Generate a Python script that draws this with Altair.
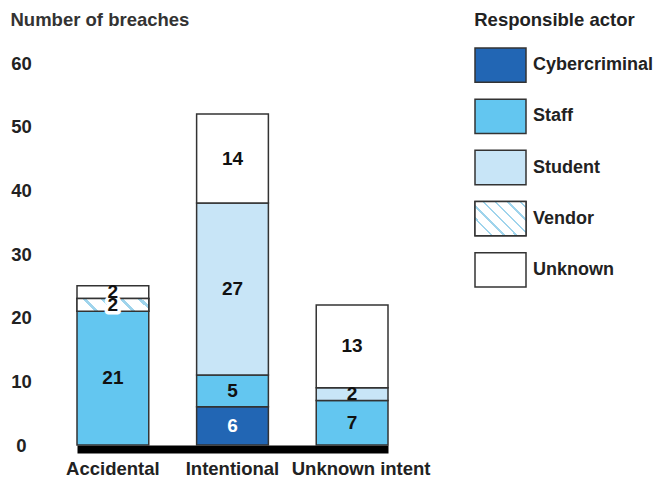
import altair as alt
import pandas as pd

# ---- data ----
categories = ["Accidental", "Intentional", "Unknown intent"]
actors = ["Cybercriminal", "Staff", "Student", "Vendor", "Unknown"]
cybercriminal = [0, 6, 0]
staff = [21, 5, 7]
student = [0, 27, 2]
vendor = [2, 0, 0]
unknown = [2, 14, 13]
y_ticks = [0, 10, 20, 30, 40, 50, 60]

series = [cybercriminal, staff, student, vendor, unknown]

# ---- styles ----
FONT = "Liberation Sans"
FS = 18.5
actor_colors = ["#2266b4", "#63c6f0", "#c8e5f7", "#ffffff", "#ffffff"]
HATCH = "#9fd4ec"
STROKE = "#333333"
TXT = "#222222"


def hatch_gradient(n, x1, y1, x2, y2, w=0.22):
    stops = []
    for k in range(n):
        a = (k + 0.5 - w / 2) / n
        b = (k + 0.5 + w / 2) / n
        stops += [
            {"offset": k / n, "color": "white"},
            {"offset": a, "color": "white"},
            {"offset": a, "color": HATCH},
            {"offset": b, "color": HATCH},
            {"offset": b, "color": "white"},
        ]
    stops.append({"offset": 1, "color": "white"})
    return {"gradient": "linear", "x1": x1, "y1": y1, "x2": x2, "y2": y2, "stops": stops}


# ---- table ----
rows = []
for ci, cat in enumerate(categories):
    base = 0
    for ai, actor in enumerate(actors):
        v = series[ai][ci]
        if v > 0:
            rows.append({"category": cat, "actor": actor, "order": ai, "value": v,
                         "y0": base, "y1": base + v, "ymid": base + v / 2})
            base += v
df = pd.DataFrame(rows)

x_enc = alt.X("category:N", sort=categories,
              scale=alt.Scale(domain=categories, paddingInner=0.4, paddingOuter=0),
              axis=alt.Axis(title=None, labelAngle=0, labelFont=FONT, labelFontSize=FS,
                            labelFontWeight="bold", labelColor=TXT, ticks=False, tickSize=0,
                            labelPadding=10, domainColor="black", domainWidth=8, offset=4,
                            labelOffset={"condition": {"test": "datum.value == 'Unknown intent'",
                                                       "value": 9}, "value": 0},
                            grid=False))
y_axis = alt.Axis(values=y_ticks, title="Number of breaches", titleAngle=0, titleAlign="left",
                  titleX=-67, titleY=-38, titleBaseline="alphabetic", titleFont=FONT,
                  titleFontSize=FS, titleFontWeight="bold", titleColor="#333333",
                  labelFont=FONT, labelFontSize=FS, labelFontWeight="bold", labelColor=TXT,
                  grid=False, domain=False, ticks=False, tickSize=0, labelAlign="center",
                  labelPadding=56, labelBaseline="middle")
y_scale = alt.Scale(domain=[0, 60], nice=False, zero=True)

base = alt.Chart(df)

bars = base.mark_bar(stroke=STROKE, strokeWidth=1.5).encode(
    x=x_enc,
    y=alt.Y("y0:Q", scale=y_scale, axis=y_axis),
    y2="y1:Q",
    color=alt.Color("actor:N", scale=alt.Scale(domain=actors, range=actor_colors), legend=None),
)

hatch = base.transform_filter("datum.actor == 'Vendor'").mark_bar(
    stroke=STROKE, strokeWidth=1.5, fill=hatch_gradient(4, 0, 0.18, 1, 0)
).encode(
    x=x_enc,
    y=alt.Y("y0:Q", scale=y_scale, axis=y_axis),
    y2="y1:Q",
)

halo = base.transform_filter("datum.actor == 'Vendor'").mark_text(
    font=FONT, fontSize=19, fontWeight="bold", stroke="white", strokeWidth=7,
    strokeJoin="round", color="white"
).encode(
    x=x_enc,
    y=alt.Y("ymid:Q", scale=y_scale, axis=y_axis),
    text="value:Q",
)

labels = base.mark_text(font=FONT, fontSize=19, fontWeight="bold", baseline="middle").encode(
    x=x_enc,
    y=alt.Y("ymid:Q", scale=y_scale, axis=y_axis),
    text="value:Q",
    color=alt.condition("datum.actor == 'Cybercriminal'", alt.value("white"), alt.value("#111111")),
)

main = alt.layer(bars, hatch, halo, labels).properties(width=311, height=382)

# ---- legend panel ----
LOFF = -15
legend_df = pd.DataFrame({"actor": actors})
ly = alt.Y("actor:N", sort=actors,
           scale=alt.Scale(domain=actors, paddingInner=0.33, paddingOuter=0), axis=None)
lbase = alt.Chart(legend_df)
swatch = lbase.mark_rect(stroke=STROKE, strokeWidth=1.5, yOffset=LOFF).encode(
    y=ly, x=alt.value(0), x2=alt.value(51),
    color=alt.Color("actor:N", scale=alt.Scale(domain=actors, range=actor_colors), legend=None),
)
swatch_hatch = lbase.transform_filter("datum.actor == 'Vendor'").mark_rect(
    stroke=STROKE, strokeWidth=1.5, yOffset=LOFF, fill=hatch_gradient(6, 0, 0.667, 1, 0, w=0.2)
).encode(y=ly, x=alt.value(0), x2=alt.value(51))
ltext = lbase.mark_text(font=FONT, fontSize=18, fontWeight="bold", align="left",
                        baseline="middle", color=TXT, yOffset=LOFF).encode(
    y=ly, x=alt.value(58), text="actor:N")

legend = alt.layer(swatch, swatch_hatch, ltext).properties(
    width=51, height=239,
    title=alt.TitleParams("Responsible actor", anchor="start", font=FONT, fontSize=FS,
                          fontWeight="bold", color=TXT, offset=18),
)

chart = alt.hconcat(main, legend, spacing=44).properties(
    padding={"left": 2, "top": 2, "right": 0, "bottom": 0}
).configure_view(stroke=None)

chart.save("out.html", embed_options={"renderer": "svg", "actions": False})
